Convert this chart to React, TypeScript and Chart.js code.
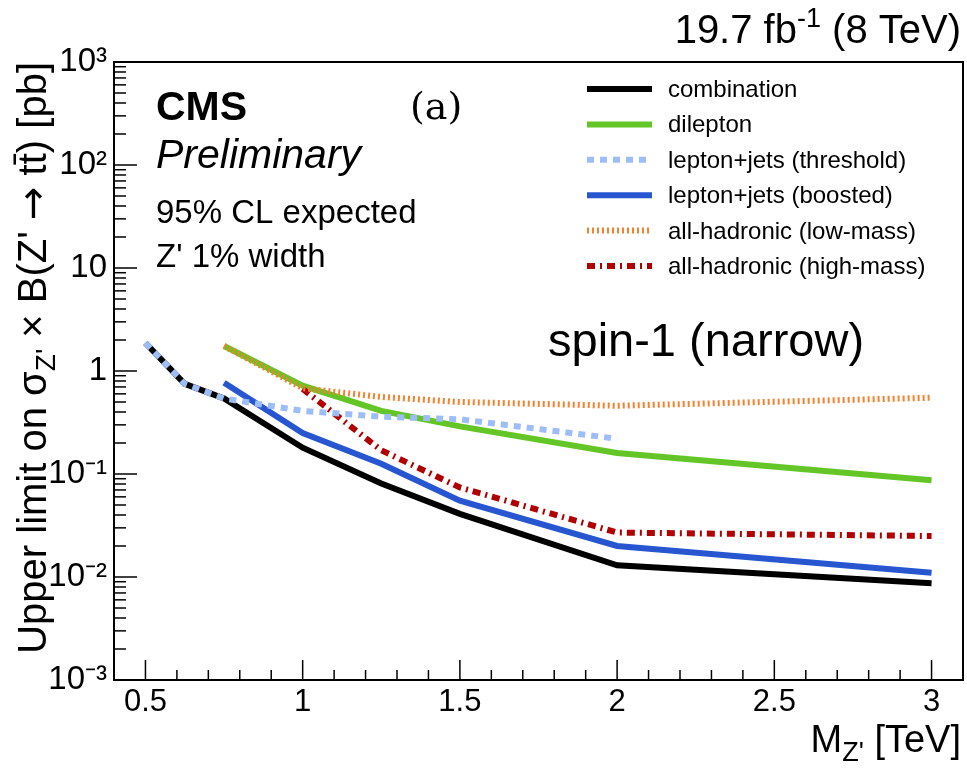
import React, { useEffect, useRef } from 'react';
import { Chart, registerables } from 'chart.js';

Chart.register(...registerables);

// ---------- data ----------
const massCombination = [0.5, 0.625, 0.75, 1.0, 1.25, 1.5, 2.0, 3.0];
const limitCombination = [1.87, 0.75, 0.54, 0.18, 0.081, 0.041, 0.013, 0.0087];

const massDilepton = [0.75, 1.0, 1.25, 1.5, 2.0, 3.0];
const limitDilepton = [1.75, 0.72, 0.41, 0.29, 0.16, 0.087];

const massLjThreshold = [0.5, 0.625, 0.75, 1.0, 1.25, 1.5, 2.0];
const limitLjThreshold = [1.87, 0.75, 0.54, 0.41, 0.36, 0.34, 0.22];

const massLjBoosted = [0.75, 1.0, 1.25, 1.5, 2.0, 3.0];
const limitLjBoosted = [0.77, 0.25, 0.126, 0.055, 0.02, 0.011];

const massHadLow = [0.75, 1.0, 1.25, 1.5, 2.0, 3.0];
const limitHadLow = [1.75, 0.68, 0.56, 0.5, 0.46, 0.55];

const massHadHigh = [1.0, 1.25, 1.5, 2.0, 3.0];
const limitHadHigh = [0.67, 0.17, 0.074, 0.027, 0.025];

const seriesNames = [
  'combination',
  'dilepton',
  'lepton+jets (threshold)',
  'lepton+jets (boosted)',
  'all-hadronic (low-mass)',
  'all-hadronic (high-mass)',
];

const xTickValues = [0.5, 1, 1.5, 2, 2.5, 3];
const xTickLabels = ['0.5', '1', '1.5', '2', '2.5', '3'];
const yTickExponents = [-3, -2, -1, 0, 1, 2, 3];
const yTickLabels = ['10⁻³', '10⁻²', '10⁻¹', '1', '10', '10²', '10³'];

const FONT = "'Liberation Sans', Arial, Helvetica, sans-serif";

type Part = { t: string; size: number; dy?: number; style?: string; family?: string };

function drawRich(ctx: CanvasRenderingContext2D, parts: Part[], x: number, y: number, align: 'left' | 'right') {
  ctx.textAlign = 'left';
  ctx.textBaseline = 'alphabetic';
  const fontOf = (p: Part) => `${p.style || ''} ${p.size}px ${p.family || FONT}`;
  const widths = parts.map((p) => {
    ctx.font = fontOf(p);
    return ctx.measureText(p.t).width;
  });
  const total = widths.reduce((a, b) => a + b, 0);
  let cx = align === 'right' ? x - total : x;
  parts.forEach((p, i) => {
    ctx.font = fontOf(p);
    ctx.fillText(p.t, cx, y + (p.dy || 0));
    cx += widths[i];
  });
}

const decorPlugin = {
  id: 'decor',
  afterDraw(chart: any) {
    const ctx: CanvasRenderingContext2D = chart.ctx;
    const { left, right, top, bottom } = chart.chartArea;
    const xs = chart.scales.x;
    const ys = chart.scales.y;
    ctx.save();
    ctx.fillStyle = '#000';
    ctx.strokeStyle = '#000';

    // frame
    ctx.lineWidth = 2;
    ctx.setLineDash([]);
    ctx.strokeRect(left, top, right - left, bottom - top);

    // inside ticks
    ctx.lineWidth = 1.5;
    xs.ticks.forEach((t: any) => {
      const px = xs.getPixelForValue(t.value);
      const major = xTickValues.some((v) => Math.abs(v - t.value) < 1e-6);
      const len = major ? 20 : 10;
      ctx.beginPath();
      ctx.moveTo(px, bottom);
      ctx.lineTo(px, bottom - len);
      ctx.stroke();
    });
    ys.ticks.forEach((t: any) => {
      const py = ys.getPixelForValue(t.value);
      const e = Math.round(Math.log10(t.value));
      const major = Math.abs(t.value - Math.pow(10, e)) / Math.pow(10, e) < 1e-6;
      const len = major ? 23 : 12;
      ctx.beginPath();
      ctx.moveTo(left, py);
      ctx.lineTo(left + len, py);
      ctx.stroke();
    });

    // top-right luminosity
    drawRich(
      ctx,
      [
        { t: '19.7 fb', size: 40 },
        { t: '-1', size: 27, dy: -16 },
        { t: ' (8 TeV)', size: 40 },
      ],
      961,
      43,
      'right'
    );

    // CMS labels
    ctx.textAlign = 'left';
    ctx.font = `bold 41px ${FONT}`;
    ctx.fillText('CMS', 156, 120);
    ctx.font = `italic 41px ${FONT}`;
    ctx.fillText('Preliminary', 156, 168);
    ctx.font = `33px ${FONT}`;
    ctx.fillText('95% CL expected', 156, 223);
    ctx.fillText("Z' 1% width", 156, 267);

    ctx.font = "38px 'DejaVu Serif', 'Liberation Serif', serif";
    ctx.fillText('(a)', 410, 119);

    ctx.font = `47px ${FONT}`;
    ctx.fillText('spin-1 (narrow)', 548, 356);

    // legend
    const ds = chart.data.datasets;
    ds.forEach((d: any, i: number) => {
      const cy = 89 + i * 35.4;
      ctx.save();
      ctx.strokeStyle = d.borderColor;
      ctx.lineWidth = d.borderWidth;
      ctx.setLineDash(d.borderDash || []);
      ctx.lineCap = 'butt';
      ctx.beginPath();
      ctx.moveTo(587, cy);
      ctx.lineTo(652, cy);
      ctx.stroke();
      ctx.restore();
      ctx.fillStyle = '#000';
      ctx.font = `24px ${FONT}`;
      ctx.textAlign = 'left';
      ctx.fillText(d.label, 668, cy + 8);
    });

    // x-axis title
    drawRich(
      ctx,
      [
        { t: 'M', size: 38 },
        { t: "Z'", size: 27, dy: 9 },
        { t: ' [TeV]', size: 38 },
      ],
      961,
      752,
      'right'
    );

    // y-axis title (rotated)
    ctx.save();
    ctx.translate(46, top);
    ctx.rotate(-Math.PI / 2);
    drawRich(
      ctx,
      [
        { t: 'Upper limit on σ', size: 40 },
        { t: "Z'", size: 28, dy: 9 },
        { t: " × B(Z' ", size: 40 },
        { t: '→', size: 40, family: "'DejaVu Sans', sans-serif" },
        { t: ' tt\u0304) [pb]', size: 40 },
      ],
      0,
      0,
      'right'
    );
    ctx.restore();

    ctx.restore();
  },
};

export default function App() {
  const ref = useRef<HTMLCanvasElement>(null);
  useEffect(() => {
    const pts = (xs: number[], ys: number[]) => xs.map((x, i) => ({ x, y: ys[i] }));
    const chart = new Chart(ref.current as HTMLCanvasElement, {
      type: 'line',
      data: {
        datasets: [
          {
            label: seriesNames[0],
            data: pts(massCombination, limitCombination),
            borderColor: '#000000',
            borderWidth: 6,
            order: 5,
          },
          {
            label: seriesNames[1],
            data: pts(massDilepton, limitDilepton),
            borderColor: '#63c626',
            borderWidth: 6,
            order: 6,
          },
          {
            label: seriesNames[2],
            data: pts(massLjThreshold, limitLjThreshold),
            borderColor: '#9dbdf7',
            borderWidth: 6,
            borderDash: [7, 6],
            order: 0,
          },
          {
            label: seriesNames[3],
            data: pts(massLjBoosted, limitLjBoosted),
            borderColor: '#2756d0',
            borderWidth: 6,
            order: 3,
          },
          {
            label: seriesNames[4],
            data: pts(massHadLow, limitHadLow),
            borderColor: '#f3812f',
            borderWidth: 6,
            borderDash: [2, 3],
            order: 1,
          },
          {
            label: seriesNames[5],
            data: pts(massHadHigh, limitHadHigh),
            borderColor: '#b00000',
            borderWidth: 6,
            borderDash: [8, 5, 2, 5],
            order: 2,
          },
        ] as any,
      },
      options: {
        animation: false,
        responsive: false,
        maintainAspectRatio: false,
        layout: { padding: { left: 0, right: 4, top: 62, bottom: 0 } },
        plugins: { legend: { display: false }, tooltip: { enabled: false } },
        elements: {
          point: { radius: 0, hoverRadius: 0 },
          line: { tension: 0, borderCapStyle: 'butt', borderJoinStyle: 'miter', fill: false },
        },
        scales: {
          x: {
            type: 'linear',
            min: 0.4,
            max: 3.1,
            afterBuildTicks: (s: any) => {
              const t = [];
              for (let i = 4; i <= 31; i++) t.push({ value: i / 10 });
              s.ticks = t;
            },
            afterFit: (s: any) => {
              s.height = 93;
            },
            grid: { display: false, drawTicks: false },
            border: { display: false },
            ticks: {
              autoSkip: false,
              maxRotation: 0,
              minRotation: 0,
              padding: 4,
              color: '#000',
              font: { family: FONT, size: 31 },
              callback: (v: any) => {
                const i = xTickValues.findIndex((x) => Math.abs(x - Number(v)) < 1e-6);
                return i >= 0 ? xTickLabels[i] : '';
              },
            },
          },
          y: {
            type: 'logarithmic',
            min: 1e-3,
            max: 1e3,
            afterBuildTicks: (s: any) => {
              const t = [];
              for (let e = -3; e < 3; e++) for (let m = 1; m <= 9; m++) t.push({ value: m * Math.pow(10, e) });
              t.push({ value: 1e3 });
              s.ticks = t;
            },
            afterFit: (s: any) => {
              s.width = 114;
            },
            grid: { display: false, drawTicks: false },
            border: { display: false },
            ticks: {
              autoSkip: false,
              padding: 7,
              color: '#000',
              font: { family: FONT, size: 33 },
              callback: (v: any) => {
                const val = Number(v);
                const e = Math.round(Math.log10(val));
                if (Math.abs(val - Math.pow(10, e)) / Math.pow(10, e) > 1e-6) return '';
                const i = yTickExponents.indexOf(e);
                return i >= 0 ? yTickLabels[i] : '';
              },
            },
          },
        },
      } as any,
      plugins: [decorPlugin],
    });
    return () => chart.destroy();
  }, []);
  return (
    <div style={{ position: 'fixed', left: 0, top: 0, width: 967, height: 773, background: '#fff' }}>
      <canvas ref={ref} width={967} height={773} style={{ display: 'block', width: 967, height: 773 }} />
    </div>
  );
}
